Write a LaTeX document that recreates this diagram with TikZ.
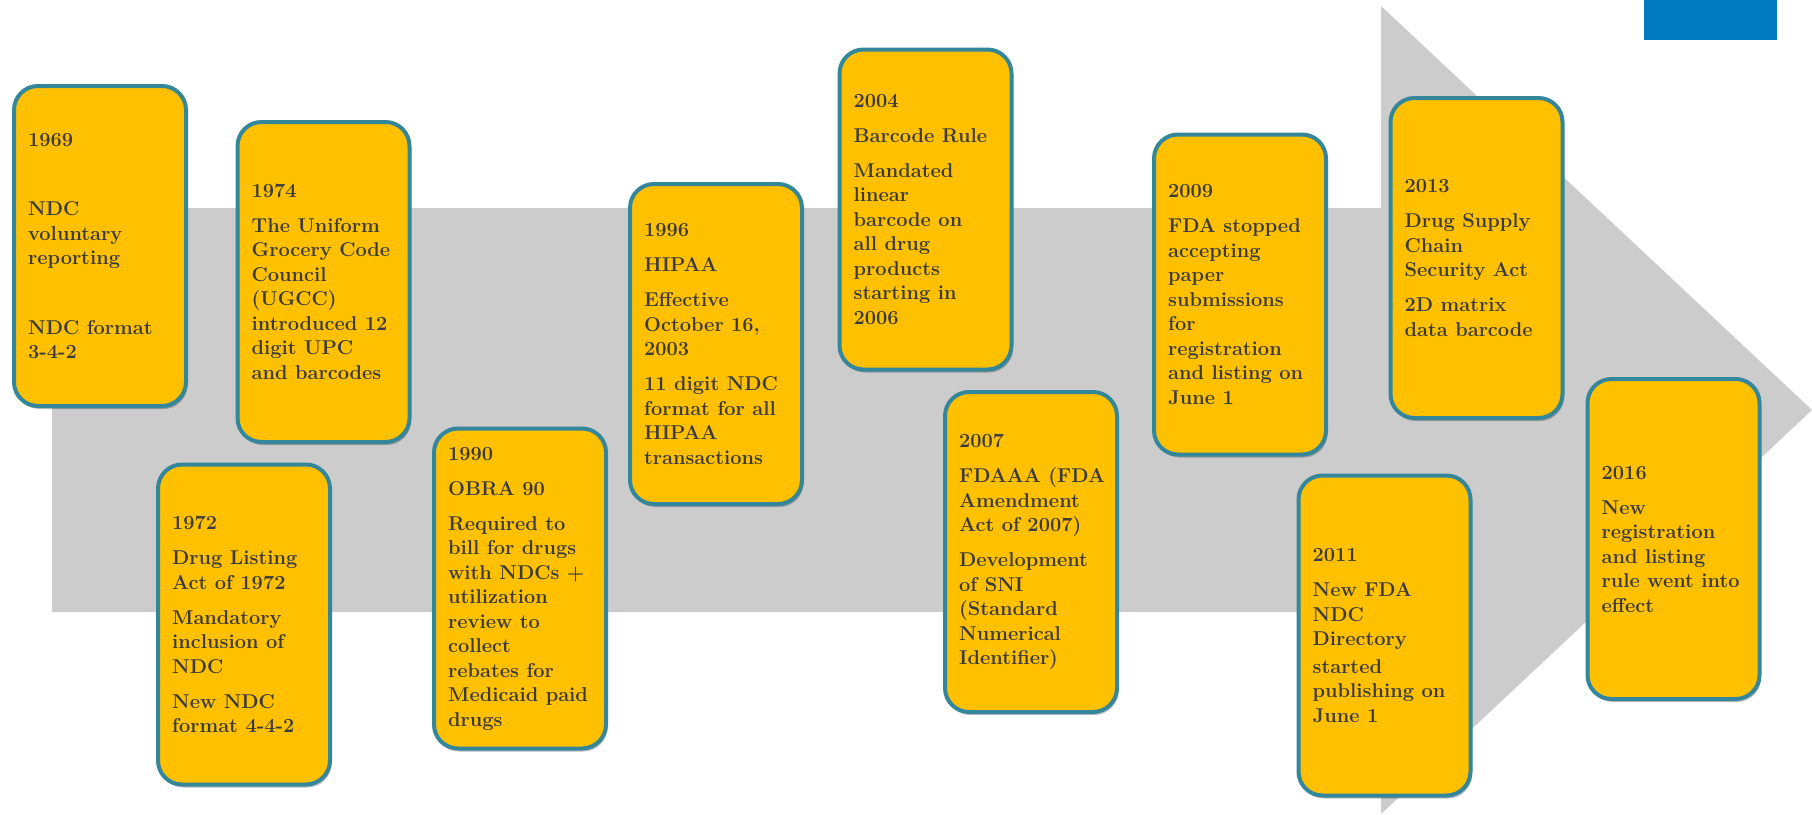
\documentclass[tikz,border=0pt]{standalone}
\usetikzlibrary{shadows}
\definecolor{boxfill}{RGB}{255,192,0}
\definecolor{boxedge}{RGB}{52,135,155}
\definecolor{arrowgray}{RGB}{204,204,204}
\definecolor{txtgray}{RGB}{58,58,58}
\definecolor{topblue}{RGB}{0,123,192}
\tikzset{
  evbox/.style={draw=boxedge, line width=4pt, fill=boxfill, rounded corners=24pt,
    minimum width=172pt, minimum height=320pt, inner sep=0pt,
    drop shadow={shadow xshift=1.5pt, shadow yshift=-3pt, fill=black, opacity=0.25}},
  evtext/.style={anchor=west, align=left, inner sep=0pt, text=txtgray,
    font=\fontsize{20}{24.5}\selectfont\bfseries},
}
\begin{document}
\begin{tikzpicture}[x=1pt,y=-1pt]
\useasboundingbox (0,0) rectangle (1812,814);
% big gray arrow
\fill[arrowgray] (52,208) -- (1381,208) -- (1381,6) -- (1812,410) -- (1381,814) -- (1381,612) -- (52,612) -- cycle;
% blue tab
\fill[topblue] (1644,0) rectangle (1777,40);

% boxes
\node[evbox] (b1969) at (100,246) {};
\node[evtext] (t1969) at ([xshift=16pt]b1969.west) {1969\\[45pt]NDC\\voluntary\\reporting\\[45pt]NDC format\\3-4-2};

\node[evbox] (b1974) at (323.5,282) {};
\node[evtext] (t1974) at ([xshift=16pt]b1974.west) {1974\\[10pt]The Uniform\\Grocery Code\\Council\\(UGCC)\\introduced 12\\digit UPC\\and barcodes};

\node[evbox] (b1972) at (244,624.5) {};
\node[evtext] (t1972) at ([xshift=16pt]b1972.west) {1972\\[10.5pt]Drug Listing\\Act of 1972\\[10.5pt]Mandatory\\inclusion of\\NDC\\[10.5pt]New NDC\\format 4-4-2};

\node[evbox] (b1990) at (520,588.5) {};
\node[evtext] (t1990) at ([xshift=16pt]b1990.west) {1990\\[10.5pt]OBRA 90\\[10.5pt]Required to\\bill for drugs\\with NDCs +\\utilization\\review to\\collect\\rebates for\\Medicaid paid\\drugs};

\node[evbox] (b1996) at (716,344) {};
\node[evtext] (t1996) at ([xshift=16pt]b1996.west) {1996\\[10.5pt]HIPAA\\[10.5pt]Effective\\October 16,\\2003\\[10.5pt]11 digit NDC\\format for all\\HIPAA\\transactions};

\node[evbox] (b2004) at (925.5,209.5) {};
\node[evtext] (t2004) at ([xshift=16pt]b2004.west) {2004\\[10.5pt]Barcode Rule\\[10.5pt]Mandated\\linear\\barcode on\\all drug\\products\\starting in\\2006};

\node[evbox] (b2007) at (1031,552) {};
\node[evtext] (t2007) at ([xshift=16pt]b2007.west) {2007\\[10.5pt]FDAAA (FDA\\Amendment\\Act of 2007)\\[10.5pt]Development\\of SNI\\(Standard\\Numerical\\Identifier)};

\node[evbox] (b2009) at (1240,294.5) {};
\node[evtext] (t2009) at ([xshift=16pt]b2009.west) {2009\\[10.5pt]FDA stopped\\accepting\\paper\\submissions\\for\\registration\\and listing on\\June 1};

\node[evbox] (b2011) at (1384.5,635.5) {};
\node[evtext] (t2011) at ([xshift=16pt]b2011.west) {2011\\[10.5pt]New FDA\\NDC\\Directory\\[3pt]started\\publishing on\\June 1};

\node[evbox] (b2013) at (1476.5,258) {};
\node[evtext] (t2013) at ([xshift=16pt]b2013.west) {2013\\[10.5pt]Drug Supply\\Chain\\Security Act\\[10.5pt]2D matrix\\data barcode};

\node[evbox] (b2016) at (1673.5,539) {};
\node[evtext] (t2016) at ([xshift=16pt]b2016.west) {2016\\[10.5pt]New\\registration\\and listing\\rule went into\\effect};
\end{tikzpicture}
\end{document}
